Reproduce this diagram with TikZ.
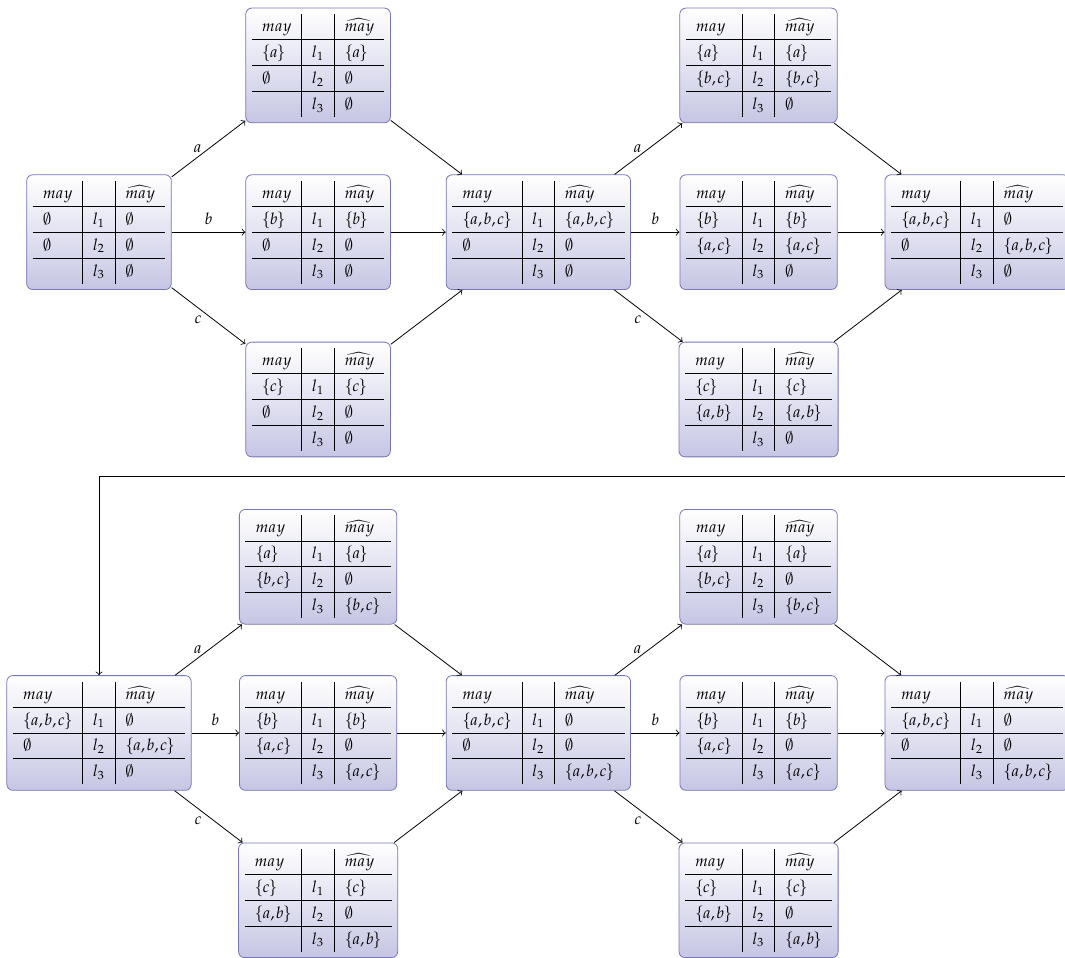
\documentclass[tikz,border=0pt]{standalone}
\usepackage{mathpple}
\DeclareSymbolFont{cmsymbols}{OMS}{cmsy}{m}{n}
\DeclareMathSymbol{\noset}{\mathord}{cmsymbols}{"3B}

\definecolor{boxline}{RGB}{118,118,188}
\definecolor{boxfill}{RGB}{198,198,228}

\tikzset{
  statebox/.style={draw=boxline, rounded corners=3pt, top color=white, bottom color=boxfill, inner sep=3pt, font=\footnotesize},
  trans/.style={->},
  lab/.style={font=\footnotesize}
}

% a set of letters, set a bit tight
\newcommand{\sset}[1]{\thinmuskip=1.5mu\{\mkern-1mu#1\mkern-1mu\}}
% may table: l1 may, l1 hat, l2 may, l2 hat, l3 hat
\newcommand{\maytab}[5]{%
  \renewcommand{\arraystretch}{1.32}\setlength{\tabcolsep}{5.1pt}%
  \begin{tabular}{l|l|l}
    $may$ & & $\widehat{may}$\\\hline
    $#1$ & $l_1$ & $#2$\\\hline
    $#3$ & $l_2$ & $#4$\\\hline
    & $l_3$ & $#5$
  \end{tabular}}

\begin{document}
\begin{tikzpicture}
    \useasboundingbox (0,0) rectangle (18.715,-16.818);
    % first pass
    \node[statebox] (A0) at (1.74,-4.08) {\maytab{\noset}{\noset}{\noset}{\noset}{\noset}};
    \node[statebox] (A1a) at (5.59,-1.15) {\maytab{\sset{a}}{\sset{a}}{\noset}{\noset}{\noset}};
    \node[statebox] (A1b) at (5.59,-4.08) {\maytab{\sset{b}}{\sset{b}}{\noset}{\noset}{\noset}};
    \node[statebox] (A1c) at (5.59,-7.02) {\maytab{\sset{c}}{\sset{c}}{\noset}{\noset}{\noset}};
    \node[statebox] (A2) at (9.46,-4.08) {\maytab{\sset{a,b,c}}{\sset{a,b,c}}{\noset}{\noset}{\noset}};
    \node[statebox] (A3a) at (13.33,-1.15) {\maytab{\sset{a}}{\sset{a}}{\sset{b,c}}{\sset{b,c}}{\noset}};
    \node[statebox] (A3b) at (13.33,-4.08) {\maytab{\sset{b}}{\sset{b}}{\sset{a,c}}{\sset{a,c}}{\noset}};
    \node[statebox] (A3c) at (13.33,-7.02) {\maytab{\sset{c}}{\sset{c}}{\sset{a,b}}{\sset{a,b}}{\noset}};
    \node[statebox] (A4) at (17.17,-4.08) {\maytab{\sset{a,b,c}}{\noset}{\noset}{\sset{a,b,c}}{\noset}};
    % second pass
    \node[statebox] (B0) at (1.74,-12.88) {\maytab{\sset{a,b,c}}{\noset}{\noset}{\sset{a,b,c}}{\noset}};
    \node[statebox] (B1a) at (5.59,-9.96) {\maytab{\sset{a}}{\sset{a}}{\sset{b,c}}{\noset}{\sset{b,c}}};
    \node[statebox] (B1b) at (5.59,-12.88) {\maytab{\sset{b}}{\sset{b}}{\sset{a,c}}{\noset}{\sset{a,c}}};
    \node[statebox] (B1c) at (5.59,-15.82) {\maytab{\sset{c}}{\sset{c}}{\sset{a,b}}{\noset}{\sset{a,b}}};
    \node[statebox] (B2) at (9.46,-12.88) {\maytab{\sset{a,b,c}}{\noset}{\noset}{\noset}{\sset{a,b,c}}};
    \node[statebox] (B3a) at (13.33,-9.96) {\maytab{\sset{a}}{\sset{a}}{\sset{b,c}}{\noset}{\sset{b,c}}};
    \node[statebox] (B3b) at (13.33,-12.88) {\maytab{\sset{b}}{\sset{b}}{\sset{a,c}}{\noset}{\sset{a,c}}};
    \node[statebox] (B3c) at (13.33,-15.82) {\maytab{\sset{c}}{\sset{c}}{\sset{a,b}}{\noset}{\sset{a,b}}};
    \node[statebox] (B4) at (17.17,-12.88) {\maytab{\sset{a,b,c}}{\noset}{\noset}{\noset}{\sset{a,b,c}}};

    \foreach \g in {A,B} {
        \draw[trans] (\g0) -- node[lab, left] {$a$} (\g1a);
        \draw[trans] (\g0) -- node[lab, above] {$b$} (\g1b);
        \draw[trans] (\g0) -- node[lab, left, yshift=-2pt] {$c$} (\g1c);
        \draw[trans] (\g1a) -- (\g2);
        \draw[trans] (\g1b) -- (\g2);
        \draw[trans] (\g1c) -- (\g2);
        \draw[trans] (\g2) -- node[lab, left] {$a$} (\g3a);
        \draw[trans] (\g2) -- node[lab, above] {$b$} (\g3b);
        \draw[trans] (\g2) -- node[lab, left, yshift=-2pt] {$c$} (\g3c);
        \draw[trans] (\g3a) -- (\g4);
        \draw[trans] (\g3b) -- (\g4);
        \draw[trans] (\g3c) -- (\g4);
    }
    \coordinate (back) at (18.715,-8.38);
    \draw[trans] (back) -| (B0);
\end{tikzpicture}
\end{document}
